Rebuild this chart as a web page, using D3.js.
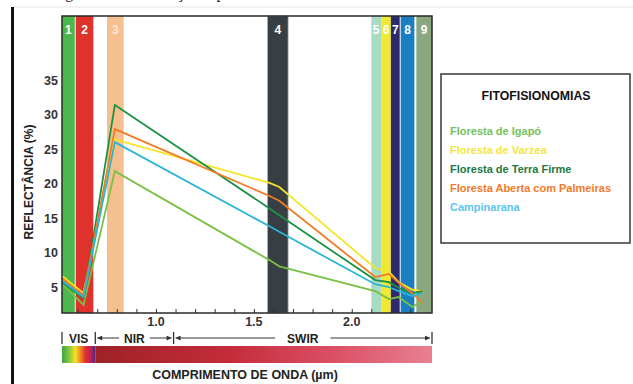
<!DOCTYPE html>
<html lang="pt">
<head>
<meta charset="utf-8">
<style>
  body { margin: 0; background: #fff; }
  text { font-family: "Liberation Sans", Arial, sans-serif; }
</style>
</head>
<body>
<script src="https://d3js.org/d3.v7.min.js"></script>
<script>
  width = 633;
  height = 384;

  // band positions (µm)
  const bandNames = ["1", "2", "3", "4", "5", "6", "7", "8", "9"];
  const bandStart = [0.52, 0.59, 0.75, 1.57, 2.10, 2.15, 2.20, 2.25, 2.33];
  const bandEnd = [0.585, 0.68, 0.835, 1.675, 2.15, 2.20, 2.245, 2.32, 2.41];
  const bandColors = ["#4cb74f", "#e0322c", "#f5bf8f", "#373e44", "#a8dbc6", "#efe834", "#2f2a6c", "#1b7ec1", "#8ba780"];

  // wavelengths of the curve vertices
  const wavelengths = [0.52, 0.63, 0.79, 1.58, 1.63, 2.12, 2.19, 2.24, 2.31, 2.36];

  const seriesNames = ["Floresta de Igapó", "Floresta de Varzea", "Floresta de Terra Firme",
                       "Floresta Aberta com Palmeiras", "Campinarana"];
  const igapo       = [5.5, 2.4, 21.8, 8.9, 8.0, 4.4, 3.25, 3.55, 2.1, 3.0];
  const varzea      = [6.6, 4.1, 26.4, 20.1, 19.5, 7.75, 7.2, 5.7, 4.6, 4.4];
  const terraFirme  = [5.7, 3.4, 31.4, 16.4, 15.4, 6.0, 5.7, 4.85, 4.1, 4.4];
  const palmeiras   = [6.3, 3.7, 27.9, 18.2, 17.5, 6.45, 6.9, 5.6, 4.1, 2.7];
  const campinarana = [5.9, 3.55, 26.0, 13.8, 13.0, 5.4, 5.0, 4.4, 3.7, 4.1];
  const lineColors = ["#79c043", "#f4e526", "#1a9244", "#f47b21", "#2ab5d6"];
  const legendColors = ["#74c35b", "#f3e63c", "#1b7a40", "#f37a2a", "#5cc5ee"];

  const yTicks = [5, 10, 15, 20, 25, 30, 35];
  const xLabelTicks = [1.0, 1.5, 2.0];
  const xMinorTicks = [0.6, 0.7, 0.8, 0.9, 1.0, 1.1, 1.2, 1.3, 1.4, 1.5, 1.6, 1.7, 1.8, 1.9, 2.0, 2.1, 2.2, 2.3];

  const regionNames = ["VIS", "NIR", "SWIR"];
  const regionFrom = [0.52, 0.69, 1.09];
  const regionTo = [0.69, 1.09, 2.41];

  const svg = d3.select("body")
    .append("svg")
    .attr("width", width)
    .attr("height", height);

  const x = d3.scaleLinear().domain([0.52, 2.41]).range([62, 432]);
  const y = d3.scaleLinear().domain([1.23, 44.3]).range([313, 16]);

  // page remnants: caption cut at top, frame lines
  svg.append("text")
    .attr("x", 52).attr("y", -2)
    .style("font-family", "'Liberation Serif', serif")
    .style("font-size", "16px")
    .attr("fill", "#222")
    .text("Figura 2 – Localização espectral");
  svg.append("line")
    .attr("x1", 12).attr("x2", width).attr("y1", 7).attr("y2", 7)
    .attr("stroke", "#e4e4e4").attr("stroke-width", 1);
  svg.append("line")
    .attr("x1", 12.5).attr("x2", 12.5).attr("y1", 7).attr("y2", height)
    .attr("stroke", "#111").attr("stroke-width", 3);

  // bands
  svg.selectAll("rect.band")
    .data(bandNames)
    .join("rect")
      .attr("class", "band")
      .attr("x", (d, i) => x(bandStart[i]))
      .attr("y", y.range()[1])
      .attr("width", (d, i) => x(bandEnd[i]) - x(bandStart[i]))
      .attr("height", y.range()[0] - y.range()[1])
      .attr("fill", (d, i) => bandColors[i])
      .attr("stroke", (d, i) => i === 3 ? "#a9b0b8" : "none")
      .attr("stroke-width", 0.8);

  // x axis ticks (inside) and labels
  const xAxis = svg.append("g")
    .attr("transform", `translate(0,${y.range()[0]})`)
    .call(d3.axisBottom(x).tickValues(xMinorTicks).tickSize(-4).tickFormat(""));
  xAxis.select(".domain").remove();
  xAxis.selectAll("line").attr("stroke", "#333").attr("stroke-width", 1);

  svg.selectAll("text.xlab")
    .data(xLabelTicks)
    .join("text")
      .attr("class", "xlab")
      .attr("x", d => x(d))
      .attr("y", 326)
      .attr("text-anchor", "middle")
      .style("font-size", "12.5px")
      .style("font-weight", "bold")
      .attr("fill", "#333")
      .text(d => d3.format(".1f")(d));

  // y axis labels
  const yAxis = svg.append("g")
    .attr("transform", `translate(${x.range()[0]},0)`)
    .call(d3.axisLeft(y).tickValues(yTicks).tickSize(0).tickPadding(4));
  yAxis.select(".domain").remove();
  yAxis.selectAll("text")
    .style("font-size", "12.5px")
    .style("font-weight", "bold")
    .style("font-family", "'Liberation Sans', Arial, sans-serif")
    .attr("fill", "#333");

  // curves
  const allSeries = [igapo, varzea, terraFirme, palmeiras, campinarana];
  const line = d3.line()
    .x((d, i) => x(wavelengths[i]))
    .y(d => y(d));

  svg.selectAll("path.curve")
    .data(allSeries)
    .join("path")
      .attr("class", "curve")
      .attr("d", d => line(d))
      .attr("fill", "none")
      .attr("stroke", (d, i) => lineColors[i])
      .attr("stroke-width", 1.8)
      .attr("stroke-linejoin", "miter");

  // plot frame
  svg.append("rect")
    .attr("x", x.range()[0])
    .attr("y", y.range()[1])
    .attr("width", x.range()[1] - x.range()[0])
    .attr("height", y.range()[0] - y.range()[1])
    .attr("fill", "none")
    .attr("stroke", "#2a2a2a")
    .attr("stroke-width", 1.5);

  // band numbers
  svg.selectAll("text.bandlab")
    .data(bandNames)
    .join("text")
      .attr("class", "bandlab")
      .attr("x", (d, i) => (x(bandStart[i]) + x(bandEnd[i])) / 2)
      .attr("y", 34)
      .attr("text-anchor", "middle")
      .style("font-size", "12px")
      .style("font-weight", "bold")
      .attr("fill", (d, i) => i === 2 ? "#fde9d6" : "#fff")
      .text(d => d);

  // axis titles
  svg.append("text")
    .attr("transform", "translate(33,182) rotate(-90)")
    .attr("text-anchor", "middle")
    .style("font-size", "12px")
    .style("font-weight", "bold")
    .attr("fill", "#222")
    .text("REFLECTÂNCIA (%)");

  svg.append("text")
    .attr("x", 245)
    .attr("y", 379)
    .attr("text-anchor", "middle")
    .style("font-size", "12.5px")
    .style("font-weight", "bold")
    .attr("fill", "#222")
    .text("COMPRIMENTO DE ONDA (µm)");

  // spectral region labels
  const defs = svg.append("defs");
  defs.append("marker")
    .attr("id", "ah")
    .attr("viewBox", "0 0 10 10")
    .attr("refX", 10).attr("refY", 5)
    .attr("markerWidth", 7).attr("markerHeight", 5)
    .attr("orient", "auto-start-reverse")
    .append("path")
      .attr("d", "M0,0L10,5L0,10z")
      .attr("fill", "#333");

  const regionY = 338;
  const bounds = [regionFrom[0], ...regionTo];
  svg.selectAll("line.rbound")
    .data(bounds)
    .join("line")
      .attr("class", "rbound")
      .attr("x1", d => x(d)).attr("x2", d => x(d))
      .attr("y1", 332).attr("y2", 344)
      .attr("stroke", "#333").attr("stroke-width", 1.3);

  regionNames.forEach((name, i) => {
    const x0 = x(regionFrom[i]), x1 = x(regionTo[i]);
    const cx = (x0 + x1) / 2;
    const t = svg.append("text")
      .attr("x", cx)
      .attr("y", regionY + 4.5)
      .attr("text-anchor", "middle")
      .style("font-size", "12px")
      .style("font-weight", "bold")
      .attr("fill", "#222")
      .text(name);
    if (i > 0) {
      const w = t.node().getComputedTextLength();
      const gap = name === "SWIR" ? 12 : 5;
      svg.append("line")
        .attr("x1", cx - w / 2 - gap).attr("x2", x0 + 2)
        .attr("y1", regionY).attr("y2", regionY)
        .attr("stroke", "#333").attr("stroke-width", 1)
        .attr("marker-end", "url(#ah)");
      svg.append("line")
        .attr("x1", cx + w / 2 + gap).attr("x2", x1 - 2)
        .attr("y1", regionY).attr("y2", regionY)
        .attr("stroke", "#333").attr("stroke-width", 1)
        .attr("marker-end", "url(#ah)");
    }
  });

  // spectrum bar
  const visGrad = defs.append("linearGradient").attr("id", "visg");
  [["0%", "#3ba444"], ["22%", "#8cc63f"], ["40%", "#f5e423"], ["55%", "#f18a27"],
   ["70%", "#e1312c"], ["86%", "#c01f5a"], ["100%", "#4a2b7e"]]
    .forEach(s => visGrad.append("stop").attr("offset", s[0]).attr("stop-color", s[1]));
  const irGrad = defs.append("linearGradient").attr("id", "irg");
  [["0%", "#9d2228"], ["40%", "#c52c3b"], ["70%", "#da4f64"], ["100%", "#e88090"]]
    .forEach(s => irGrad.append("stop").attr("offset", s[0]).attr("stop-color", s[1]));

  svg.append("rect")
    .attr("x", x(regionFrom[0])).attr("y", 346)
    .attr("width", x(regionTo[0]) - x(regionFrom[0])).attr("height", 17)
    .attr("fill", "url(#visg)");
  svg.append("rect")
    .attr("x", x(regionFrom[1])).attr("y", 346)
    .attr("width", x(regionTo[2]) - x(regionFrom[1])).attr("height", 17)
    .attr("fill", "url(#irg)");

  // legend
  const lg = svg.append("g");
  lg.append("rect")
    .attr("x", 441).attr("y", 74)
    .attr("width", 189).attr("height", 169)
    .attr("fill", "#fff")
    .attr("stroke", "#444")
    .attr("stroke-width", 1.6);
  lg.append("text")
    .attr("x", 536).attr("y", 100)
    .attr("text-anchor", "middle")
    .style("font-size", "12.3px")
    .style("font-weight", "bold")
    .attr("fill", "#111")
    .text("FITOFISIONOMIAS");
  lg.selectAll("text.item")
    .data(seriesNames)
    .join("text")
      .attr("class", "item")
      .attr("x", 450)
      .attr("y", (d, i) => 135 + i * 19)
      .style("font-size", "11px")
      .style("font-weight", "bold")
      .attr("fill", (d, i) => legendColors[i])
      .text(d => d);
</script>
</body>
</html>
